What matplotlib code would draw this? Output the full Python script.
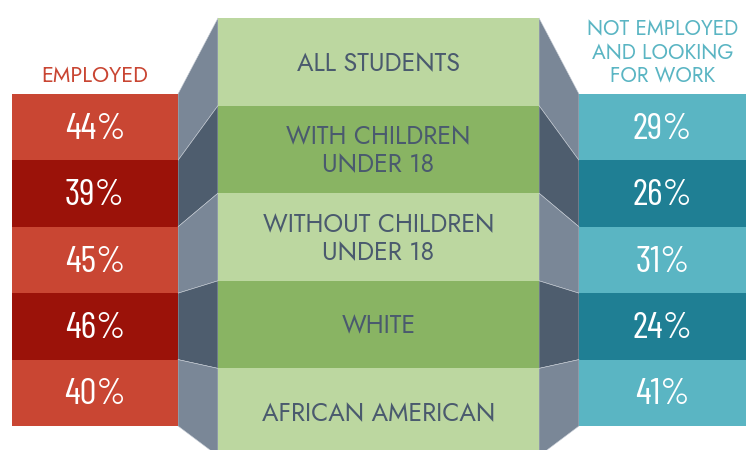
import matplotlib.pyplot as plt
from matplotlib.patches import Polygon, Rectangle

# data
groups = ["ALL STUDENTS", "WITH CHILDREN\nUNDER 18", "WITHOUT CHILDREN\nUNDER 18",
          "WHITE", "AFRICAN AMERICAN"]
employed = [44, 39, 45, 46, 40]
not_employed = [29, 26, 31, 24, 41]

# colours
red = ["#c94633", "#9b1209"]
green = ["#bcd7a0", "#89b463"]
teal = ["#5ab5c3", "#1f7f94"]
slate = ["#7a8797", "#4e5d6e"]
text_col = "#4a5a6e"

fig = plt.figure(figsize=(7.53, 4.5), dpi=100)
ax = fig.add_axes([0, 0, 1, 1])
ax.set_xlim(0, 753)
ax.set_ylim(450, 0)
ax.axis("off")

# layout (pixels)
side_top, side_h = 94, 66.4
mid_top, mid_h = 18, 87.6
lx0, lx1 = 12, 178
mx0, mx1 = 218, 539
rx0, rx1 = 579, 746

num_font = ["Barlow Condensed", "DejaVu Sans"]
lab_font = ["Jost", "DejaVu Sans"]

for i, g in enumerate(groups):
    k = i % 2
    st = side_top + i * side_h
    sb = st + side_h
    mt = mid_top + i * mid_h
    mb = mt + mid_h
    # connectors
    ax.add_patch(Polygon([(lx1, st), (mx0, mt), (mx0, mb), (lx1, sb)],
                         closed=True, facecolor=slate[k], edgecolor="#c8ced6", lw=0.4))
    ax.add_patch(Polygon([(mx1, mt), (rx0, st), (rx0, sb), (mx1, mb)],
                         closed=True, facecolor=slate[k], edgecolor="#c8ced6", lw=0.4))
    # blocks
    ax.add_patch(Rectangle((lx0, st), lx1 - lx0, side_h, facecolor=red[k], lw=0))
    ax.add_patch(Rectangle((mx0, mt), mx1 - mx0, mid_h, facecolor=green[k], lw=0))
    ax.add_patch(Rectangle((rx0, st), rx1 - rx0, side_h, facecolor=teal[k], lw=0))
    # text
    ax.text((lx0 + lx1) / 2, st + side_h / 2 + 2, f"{employed[i]}%", color="white",
            fontsize=27, family=num_font, ha="center", va="center")
    ax.text((rx0 + rx1) / 2, st + side_h / 2 + 2, f"{not_employed[i]}%", color="white",
            fontsize=27, family=num_font, ha="center", va="center")
    ax.text((mx0 + mx1) / 2, mt + mid_h / 2 + 2, g, color=text_col, fontsize=18,
            family=lab_font, ha="center", va="center", linespacing=1.1)

ax.text((lx0 + lx1) / 2, 76, "EMPLOYED", color=red[0], fontsize=15.5,
        family=lab_font, ha="center", va="center")
ax.text((rx0 + rx1) / 2, 53, "NOT EMPLOYED\nAND LOOKING\nFOR WORK", color=teal[0],
        fontsize=15, family=lab_font, ha="center", va="center", linespacing=1.1)

fig.savefig("out.png", dpi=100)
